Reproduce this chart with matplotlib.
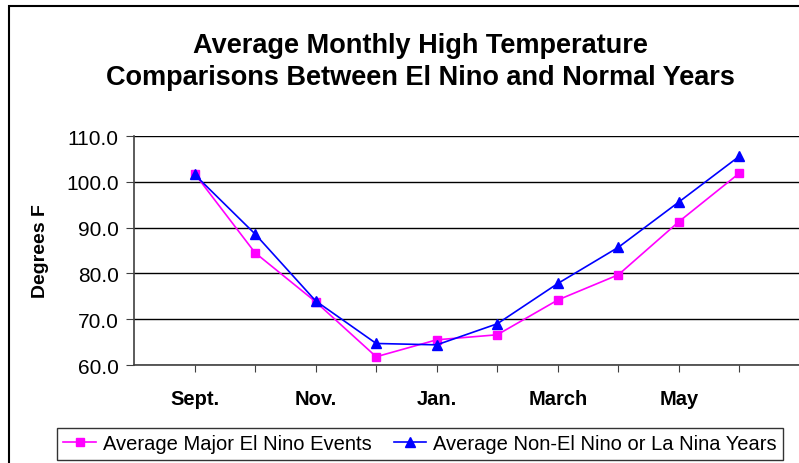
import matplotlib.pyplot as plt
from matplotlib.patches import Rectangle

plt.rcParams['font.family'] = ['Liberation Sans', 'DejaVu Sans']

# monthly values, Sept. through June
months = ['Sept.', 'Oct.', 'Nov.', 'Dec.', 'Jan.', 'Feb.', 'March', 'April', 'May', 'June']
shown_labels = ['Sept.', '', 'Nov.', '', 'Jan.', '', 'March', '', 'May', '']
el_nino = [101.8, 84.5, 73.8, 61.8, 65.5, 66.6, 74.2, 79.7, 91.3, 101.9]
normal = [101.6, 88.6, 74.0, 64.7, 64.4, 69.0, 77.8, 85.7, 95.6, 105.6]

W, H = 799, 464
fig = plt.figure(figsize=(W / 100, H / 100), dpi=100)

# chart-area border (right and bottom edges fall outside the picture)
fig.patches.append(Rectangle((9 / W, -0.1), 1.2, 1 - 7 / H + 0.1,
                             transform=fig.transFigure, fill=False,
                             edgecolor='black', linewidth=1.5))

ax = fig.add_axes([134 / W, 1 - 366 / H, (800 - 134) / W, (366 - 137) / H])

x = list(range(len(months)))
ax.plot(x, el_nino, color='#FF00FF', marker='s', markersize=6, linewidth=1.2,
        label='Average Major El Nino Events', clip_on=False)
ax.plot(x, normal, color='#0000FF', marker='^', markersize=7, linewidth=1.2,
        label='Average Non-El Nino or La Nina Years', clip_on=False)

ax.set_xlim(-1, 10)
ax.set_ylim(60, 110)
ax.set_yticks(range(60, 111, 10))
ax.set_yticklabels([f'{v:.1f}' for v in range(60, 111, 10)], fontsize=15)
ax.set_xticks(x)
ax.set_xticklabels(shown_labels, fontsize=14.5, fontweight='bold')
ax.tick_params(axis='x', length=5, pad=12, color='#404040')
ax.tick_params(axis='y', length=6, pad=5, color='#404040')

ax.grid(axis='y', color='black', linewidth=1)
ax.set_axisbelow(True)
for s in ['top', 'right']:
    ax.spines[s].set_visible(False)
for s in ['left', 'bottom']:
    ax.spines[s].set_color('#404040')
    ax.spines[s].set_linewidth(1.2)

ax.set_ylabel('Degrees F', fontsize=14, fontweight='bold', labelpad=12)

fig.text(420 / W, 1 - 46 / H, 'Average Monthly High Temperature',
         ha='center', va='center', fontsize=19.5, fontweight='bold')
fig.text(420 / W, 1 - 78 / H, 'Comparisons Between El Nino and Normal Years',
         ha='center', va='center', fontsize=19.5, fontweight='bold')

leg = fig.legend(loc='center', bbox_to_anchor=(420 / W, 1 - 445 / H), ncol=2,
                 fontsize=14.5, frameon=True, fancybox=False, edgecolor='black',
                 handlelength=1.6, handletextpad=0.35, columnspacing=1.1,
                 borderpad=0.3, borderaxespad=0)
leg.get_frame().set_linewidth(1)

fig.savefig('out.png', dpi=100)
